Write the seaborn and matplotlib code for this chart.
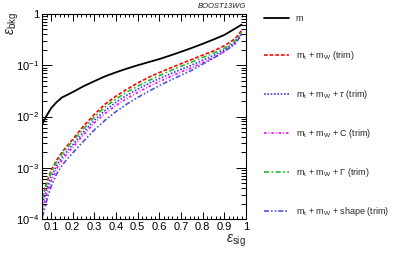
import numpy as np
import pandas as pd
import matplotlib
matplotlib.use("Agg")
import matplotlib.pyplot as plt
import matplotlib.ticker as mticker
import seaborn as sns

# ── Data ──────────────────────────────────────────────────────────────────────
eff_sig = [0.06, 0.08, 0.10, 0.125, 0.15, 0.175, 0.20, 0.25, 0.30, 0.35, 0.40,
           0.45, 0.50, 0.55, 0.60, 0.65, 0.70, 0.75, 0.80, 0.85, 0.90, 0.95, 0.98]

bkg_m = [0.0072, 0.0105, 0.0145, 0.019, 0.0235, 0.0265, 0.030, 0.039, 0.049,
         0.061, 0.073, 0.086, 0.100, 0.115, 0.132, 0.155, 0.183, 0.218, 0.262,
         0.318, 0.39, 0.52, 0.62]
bkg_trim = [2.7e-4, 5.2e-4, 8.8e-4, 1.4e-3, 2.0e-3, 2.7e-3, 3.6e-3, 6.5e-3,
            1.1e-2, 1.75e-2, 2.5e-2, 3.4e-2, 4.5e-2, 5.8e-2, 7.2e-2, 8.8e-2,
            0.107, 0.13, 0.158, 0.19, 0.24, 0.33, 0.48]
bkg_tau = [2.0e-4, 3.8e-4, 6.6e-4, 1.1e-3, 1.6e-3, 2.15e-3, 2.8e-3, 5.0e-3,
           8.5e-3, 1.32e-2, 1.9e-2, 2.6e-2, 3.4e-2, 4.4e-2, 5.5e-2, 6.8e-2,
           8.3e-2, 0.101, 0.125, 0.155, 0.20, 0.28, 0.42]
bkg_c = [1.5e-4, 3.0e-4, 5.5e-4, 9.5e-4, 1.4e-3, 1.9e-3, 2.5e-3, 4.4e-3,
         7.5e-3, 1.15e-2, 1.65e-2, 2.25e-2, 2.95e-2, 3.8e-2, 4.8e-2, 6.0e-2,
         7.4e-2, 9.0e-2, 0.112, 0.14, 0.185, 0.27, 0.41]
bkg_gamma = [2.5e-4, 4.8e-4, 8.0e-4, 1.3e-3, 1.85e-3, 2.5e-3, 3.3e-3, 5.8e-3,
             9.8e-3, 1.55e-2, 2.2e-2, 3.0e-2, 3.9e-2, 5.0e-2, 6.3e-2, 7.8e-2,
             9.5e-2, 0.116, 0.142, 0.172, 0.215, 0.30, 0.44]
bkg_shape = [1.1e-4, 2.3e-4, 4.3e-4, 7.5e-4, 1.1e-3, 1.5e-3, 1.95e-3, 3.3e-3,
             5.5e-3, 8.5e-3, 1.25e-2, 1.75e-2, 2.35e-2, 3.1e-2, 4.0e-2, 5.1e-2,
             6.4e-2, 8.0e-2, 0.105, 0.138, 0.185, 0.26, 0.40]

labels = [
    r"m",
    r"m$_{\rm t}$ + m$_{\rm W}$ (trim)",
    r"m$_{\rm t}$ + m$_{\rm W}$ + $\tau$ (trim)",
    r"m$_{\rm t}$ + m$_{\rm W}$ + C (trim)",
    r"m$_{\rm t}$ + m$_{\rm W}$ + $\Gamma$ (trim)",
    r"m$_{\rm t}$ + m$_{\rm W}$ + shape (trim)",
]
series = [bkg_m, bkg_trim, bkg_tau, bkg_c, bkg_gamma, bkg_shape]

# ── Styles ────────────────────────────────────────────────────────────────────
COLORS = ["#000000", "#ff0000", "#3a3aff", "#ff00ff", "#22bb22", "#5050e0"]
DASHES = ["-", (0, (2.2, 1.2)), (0, (1, 1)), (0, (1.5, 1.2, 0.5, 1.2)),
          (0, (3, 1.5, 1, 1.5)), (0, (3, 1.2, 1, 1.2, 1, 1.2))]
WIDTHS = [1.3, 1.2, 1.2, 1.2, 1.2, 1.2]

sns.set_style("ticks")
plt.rcParams["font.family"] = ["Liberation Sans", "DejaVu Sans"]
plt.rcParams["mathtext.fontset"] = "custom"
plt.rcParams["mathtext.rm"] = "Liberation Sans"
plt.rcParams["mathtext.it"] = "Liberation Sans:italic"
plt.rcParams["mathtext.sf"] = "Liberation Sans"

df = pd.DataFrame({"eff_sig": np.tile(eff_sig, len(series)),
                   "eff_bkg": np.concatenate(series),
                   "label": np.repeat(labels, len(eff_sig))})

fig = plt.figure(figsize=(3.99, 2.54), dpi=100)
ax = fig.add_axes([42 / 399, 1 - 219 / 254, 204 / 399, 205 / 254])

for lab, col, ls, lw in zip(labels, COLORS, DASHES, WIDTHS):
    sub = df[df["label"] == lab]
    sns.lineplot(data=sub, x="eff_sig", y="eff_bkg", ax=ax, color=col,
                 linestyle=ls, linewidth=lw, label=lab, legend=False)

ax.set_yscale("log")
ax.set_xlim(0.058, 1.0)
ax.set_ylim(1e-4, 1)

# ROOT-ish ticks: inside, all four sides
ax.xaxis.set_major_locator(mticker.MultipleLocator(0.1))
ax.xaxis.set_minor_locator(mticker.MultipleLocator(0.02))
ax.yaxis.set_major_locator(mticker.LogLocator(base=10))
ax.yaxis.set_minor_locator(mticker.LogLocator(base=10, subs=np.arange(2, 10)))
ax.xaxis.set_minor_formatter(mticker.NullFormatter())
ax.yaxis.set_minor_formatter(mticker.NullFormatter())


def ylab(v, pos):
    if abs(v - 1) < 1e-9:
        return "1"
    return r"10$^{%d}$" % int(round(np.log10(v)))


def xlab(v, pos):
    if abs(v - 1) < 1e-9:
        return "1"
    return f"{v:.1f}"


ax.yaxis.set_major_formatter(mticker.FuncFormatter(ylab))
ax.xaxis.set_major_formatter(mticker.FuncFormatter(xlab))
ax.tick_params(which="both", direction="in", top=True, right=True,
               colors="black", labelsize=8, width=0.7, pad=2)
ax.tick_params(axis="x", which="major", length=5)
ax.tick_params(axis="x", which="minor", length=2.5)
ax.tick_params(axis="y", which="major", length=7)
ax.tick_params(axis="y", which="minor", length=3.5)
for spine in ax.spines.values():
    spine.set_linewidth(0.8)
    spine.set_color("black")

ax.set_xlabel(r"$\varepsilon_{\rm sig}$", fontsize=10, loc="right", labelpad=1)
ax.set_ylabel(r"$\varepsilon_{\rm bkg}$", fontsize=10, loc="top")
ax.yaxis.set_label_coords(-0.105, 1.01)

fig.text(246 / 399, 1 - 7 / 254, "BOOST13WG", fontsize=5.5, style="italic",
         ha="right", va="center", color="#222222")

handles, labs = ax.get_legend_handles_labels()
fig.legend(handles, labs, loc="upper left",
           bbox_to_anchor=(264 / 399, 1 - 14 / 254), frameon=False,
           fontsize=6.5, handlelength=2.8, handletextpad=0.7,
           labelspacing=2.88, borderpad=0, borderaxespad=0)

fig.savefig("out.png", dpi=100, facecolor="white")
plt.close(fig)
